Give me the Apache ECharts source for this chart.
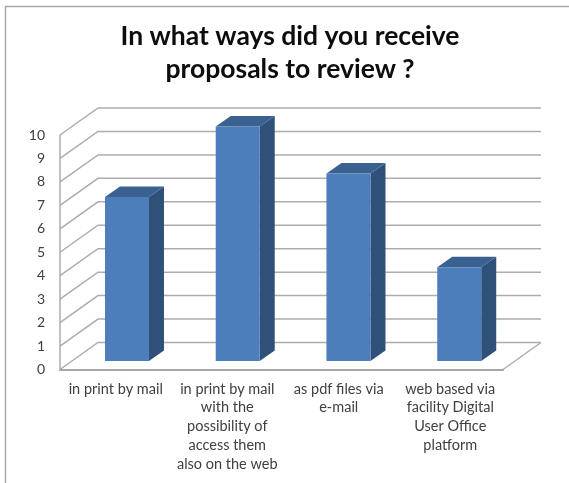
<!DOCTYPE html>
<html>
<head>
<meta charset="utf-8">
<style>html,body{margin:0;padding:0;background:#fff}#c{width:569px;height:483px}</style>
<script src="https://cdn.jsdelivr.net/npm/echarts@6/dist/echarts.min.js"></script>
</head>
<body>
<div id="c"></div>
<script>
const titleText = 'In what ways did you receive\nproposals to review ?';
const categories = [
  'in print by mail',
  'in print by mail\nwith the\npossibility of\naccess them\nalso on the web',
  'as pdf files via\ne-mail',
  'web based via\nfacility Digital\nUser Office\nplatform'
];
const values = [7, 10, 8, 4];
const gridValues = [0, 1, 2, 3, 4, 5, 6, 7, 8, 9, 10];

const WALL_DX = 38, WALL_DY = -27;
const BAR_FRONT_DX = 11.6, BAR_FRONT_DY = -8.4;
const BAR_DX = 15, BAR_DY = -10.5, BAR_W = 44;
const LINE = '#adadad';

const chart = echarts.init(document.getElementById('c'));
chart.setOption({
  backgroundColor: '#fff',
  animation: false,
  title: {
    text: titleText,
    left: 285, top: 15, textAlign: 'center',
    textStyle: {fontFamily: 'Lato', fontWeight: 'bold', fontSize: 26.5, lineHeight: 33, color: '#0d0d0d'}
  },
  grid: [
    {left: 60, top: 135, width: 443, height: 234.5},
    {left: 60, top: 135, width: 446, height: 234.5}
  ],
  xAxis: [
    {type: 'category', gridIndex: 0, data: categories,
     axisLine: {show: true, lineStyle: {color: '#a6a6a6', width: 2}},
     axisTick: {show: false}, axisLabel: {show: false}, splitLine: {show: false}},
    {type: 'category', gridIndex: 1, data: categories,
     axisLine: {show: false}, axisTick: {show: false}, splitLine: {show: false},
     axisLabel: {interval: 0, margin: 10, fontFamily: 'Lato', fontSize: 14.5, lineHeight: 18.75, color: '#404040', align: 'center', verticalAlign: 'top'}}
  ],
  yAxis: [
    {type: 'value', gridIndex: 0, min: 0, max: 10, interval: 1,
     axisLine: {show: true, lineStyle: {color: LINE, width: 1.5}},
     axisTick: {show: false}, splitLine: {show: false},
     axisLabel: {margin: 15, fontFamily: 'Lato', fontSize: 14, color: '#404040'}},
    {type: 'value', gridIndex: 1, min: 0, max: 10, show: false}
  ],
  graphic: [
    {type: 'polyline', silent: true, z: 0,
     shape: {points: [[5.5, 483], [5.5, 6.5], [569, 6.5]]},
     style: {stroke: '#a8a8a8', lineWidth: 1.5, fill: null}}
  ],
  series: [
    {
      type: 'custom', xAxisIndex: 0, yAxisIndex: 0, silent: true, z: 1, clip: false,
      data: gridValues.map(v => [0, v]),
      encode: {x: 0, y: 1},
      renderItem(params, api) {
        const cs = params.coordSys;
        const y = api.coord([0, api.value(1)])[1];
        const x0 = cs.x, x1 = cs.x + cs.width;
        const style = {stroke: LINE, lineWidth: 1.5, fill: null};
        const children = [{
          type: 'polyline', silent: true,
          shape: {points: [[x0, y], [x0 + WALL_DX, y + WALL_DY], [x1 + WALL_DX, y + WALL_DY]]},
          style
        }];
        if (api.value(1) === 0) {
          children.push({
            type: 'line', silent: true,
            shape: {x1: x1, y1: y, x2: x1 + WALL_DX, y2: y + WALL_DY},
            style
          });
        }
        return {type: 'group', children};
      }
    },
    {
      type: 'custom', xAxisIndex: 0, yAxisIndex: 0, silent: true, z: 3, clip: false,
      data: values.map((v, i) => [i, v]),
      encode: {x: 0, y: 1},
      renderItem(params, api) {
        const top = api.coord([api.value(0), api.value(1)]);
        const base = api.coord([api.value(0), 0]);
        const l = base[0] + BAR_FRONT_DX - BAR_W / 2, r = l + BAR_W;
        const b = base[1] + BAR_FRONT_DY, t = top[1] + BAR_FRONT_DY;
        return {type: 'group', children: [
          {type: 'polygon', shape: {points: [[r, t], [r + BAR_DX, t + BAR_DY], [r + BAR_DX, b + BAR_DY], [r, b]]},
           style: {fill: '#2f5179'}},
          {type: 'polygon', shape: {points: [[l, t], [l + BAR_DX, t + BAR_DY], [r + BAR_DX, t + BAR_DY], [r, t]]},
           style: {fill: '#3a6190'}},
          {type: 'rect', shape: {x: l, y: t, width: BAR_W, height: b - t},
           style: {fill: '#4c7ebb'}}
        ]};
      }
    }
  ]
});
</script>
</body>
</html>
